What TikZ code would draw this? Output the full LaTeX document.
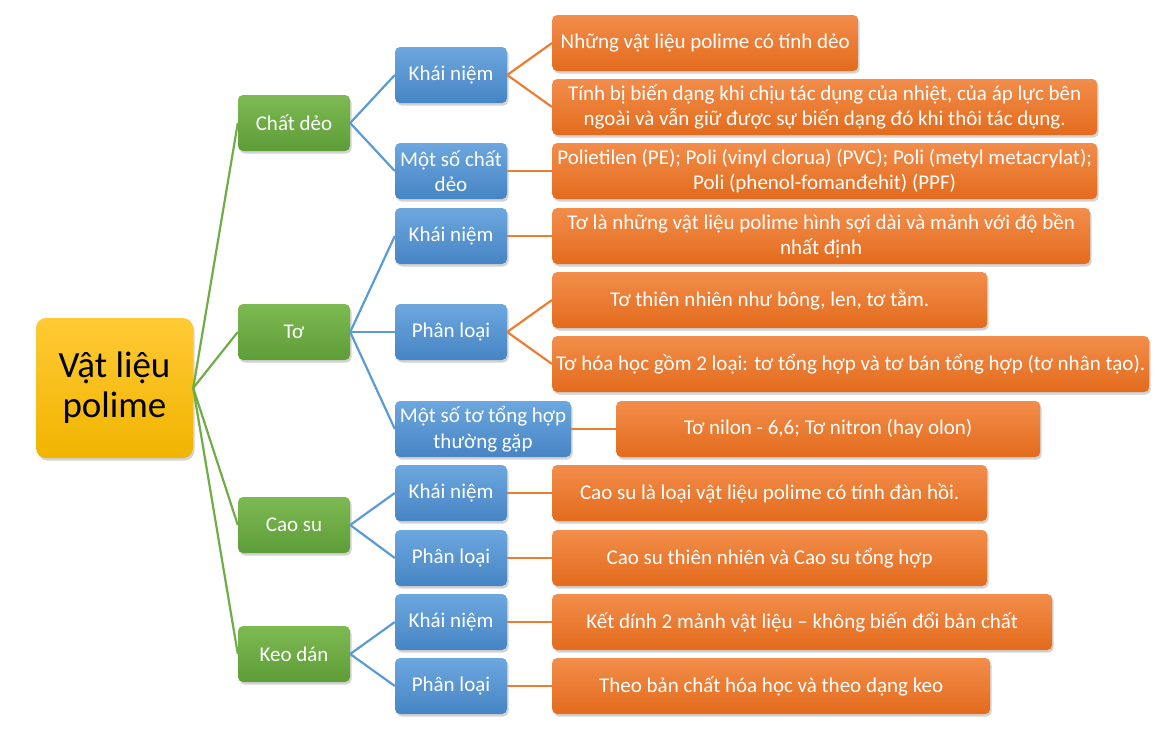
\documentclass[tikz,border=0pt]{standalone}
\usepackage{fontspec}
\setmainfont{Carlito}
\usetikzlibrary{positioning,shadows}

\definecolor{rootTop}{HTML}{FFCA35}
\definecolor{rootBot}{HTML}{F0B400}
\definecolor{topicTop}{HTML}{7DBA52}
\definecolor{topicBot}{HTML}{5E9C38}
\definecolor{subTop}{HTML}{6CA7DE}
\definecolor{subBot}{HTML}{4684C4}
\definecolor{leafTop}{HTML}{F28D4B}
\definecolor{leafBot}{HTML}{E36B1C}
\definecolor{topicLine}{HTML}{70AD47}
\definecolor{subLine}{HTML}{5B9BD5}
\definecolor{leafLine}{HTML}{ED7D31}

\begin{document}
\begin{tikzpicture}[x=1pt,y=-1pt,
    box/.style={rounded corners=5pt,inner sep=0pt,align=center,text=white,
      font=\fontsize{21}{25.5}\selectfont,minimum height=56pt,
      drop shadow={opacity=0.35,shadow xshift=1.5pt,shadow yshift=-2.5pt}},
    rootbox/.style={box,rounded corners=10pt,text=black,
      font=\fontsize{37}{40}\selectfont,minimum width=157pt,minimum height=140pt,
      top color=rootTop,bottom color=rootBot},
    topic/.style={box,minimum width=112pt,top color=topicTop,bottom color=topicBot},
    sub/.style={box,minimum width=112pt,top color=subTop,bottom color=subBot},
    leaf/.style={box,anchor=west,top color=leafTop,bottom color=leafBot},
    topicline/.style={draw=topicLine,line width=2.2pt},
    subline/.style={draw=subLine,line width=2.2pt},
    leafline/.style={draw=leafLine,line width=2.2pt}]
  \useasboundingbox (0,0) rectangle (1173,740);

  % centre
  \node[rootbox] (vl) at (114.5,388) {Vật liệu\\polime};

  % first level
  \node[topic] (cd) at (294,123) {Chất dẻo};
  \node[topic] (to) at (294,332) {Tơ};
  \node[topic] (cs) at (294,525) {Cao su};
  \node[topic] (kd) at (294,654) {Keo dán};

  % second level
  \node[sub] (cd-kn) at (451,75) {Khái niệm};
  \node[sub] (cd-ms) at (451,171) {Một số chất\\dẻo};
  \node[sub] (to-kn) at (451,236) {Khái niệm};
  \node[sub] (to-pl) at (451,332) {Phân loại};
  \node[sub,minimum width=176pt] (to-ms) at (483,429) {Một số tơ tổng hợp\\thường gặp};
  \node[sub] (cs-kn) at (451,493) {Khái niệm};
  \node[sub] (cs-pl) at (451,558) {Phân loại};
  \node[sub] (kd-kn) at (451,622) {Khái niệm};
  \node[sub] (kd-pl) at (451,686) {Phân loại};

  % third level
  \node[leaf,minimum width=306pt] (cd-kn-a) at (552,43) {Những vật liệu polime có tính dẻo};
  \node[leaf,minimum width=545pt] (cd-kn-b) at (552,107) {Tính bị biến dạng khi chịu tác dụng của nhiệt, của áp lực bên\\ngoài và vẫn giữ được sự biến dạng đó khi thôi tác dụng.};
  \node[leaf,minimum width=545pt] (cd-ms-a) at (552,171) {Polietilen (PE); Poli (vinyl clorua) (PVC); Poli (metyl metacrylat);\\Poli (phenol-fomanđehit) (PPF)};
  \node[leaf,minimum width=538pt] (to-kn-a) at (552,236) {Tơ là những vật liệu polime hình sợi dài và mảnh với độ bền\\nhất định};
  \node[leaf,minimum width=435pt] (to-pl-a) at (552,300) {Tơ thiên nhiên như bông, len, tơ tằm.};
  \node[leaf,minimum width=597pt] (to-pl-b) at (552,364) {Tơ hóa học gồm 2 loại: tơ tổng hợp và tơ bán tổng hợp (tơ nhân tạo).};
  \node[leaf,minimum width=424pt] (to-ms-a) at (616,429) {Tơ nilon - 6,6; Tơ nitron (hay olon)};
  \node[leaf,minimum width=435pt] (cs-kn-a) at (552,493) {Cao su là loại vật liệu polime có tính đàn hồi.};
  \node[leaf,minimum width=435pt] (cs-pl-a) at (552,558) {Cao su thiên nhiên và Cao su tổng hợp};
  \node[leaf,minimum width=500pt] (kd-kn-a) at (552,622) {Kết dính 2 mảnh vật liệu – không biến đổi bản chất};
  \node[leaf,minimum width=438pt] (kd-pl-a) at (552,686) {Theo bản chất hóa học và theo dạng keo};

  % connectors
  \draw[topicline] (vl.east) -- (cd.west);
  \draw[topicline] (vl.east) -- (to.west);
  \draw[topicline] (vl.east) -- (cs.west);
  \draw[topicline] (vl.east) -- (kd.west);

  \draw[subline] (cd.east) -- (cd-kn.west);
  \draw[subline] (cd.east) -- (cd-ms.west);
  \draw[subline] (to.east) -- (to-kn.west);
  \draw[subline] (to.east) -- (to-pl.west);
  \draw[subline] (to.east) -- (to-ms.west);
  \draw[subline] (cs.east) -- (cs-kn.west);
  \draw[subline] (cs.east) -- (cs-pl.west);
  \draw[subline] (kd.east) -- (kd-kn.west);
  \draw[subline] (kd.east) -- (kd-pl.west);

  \draw[leafline] (cd-kn.east) -- (cd-kn-a.west);
  \draw[leafline] (cd-kn.east) -- (cd-kn-b.west);
  \draw[leafline] (cd-ms.east) -- (cd-ms-a.west);
  \draw[leafline] (to-kn.east) -- (to-kn-a.west);
  \draw[leafline] (to-pl.east) -- (to-pl-a.west);
  \draw[leafline] (to-pl.east) -- (to-pl-b.west);
  \draw[leafline] (to-ms.east) -- (to-ms-a.west);
  \draw[leafline] (cs-kn.east) -- (cs-kn-a.west);
  \draw[leafline] (cs-pl.east) -- (cs-pl-a.west);
  \draw[leafline] (kd-kn.east) -- (kd-kn-a.west);
  \draw[leafline] (kd-pl.east) -- (kd-pl-a.west);
\end{tikzpicture}
\end{document}
